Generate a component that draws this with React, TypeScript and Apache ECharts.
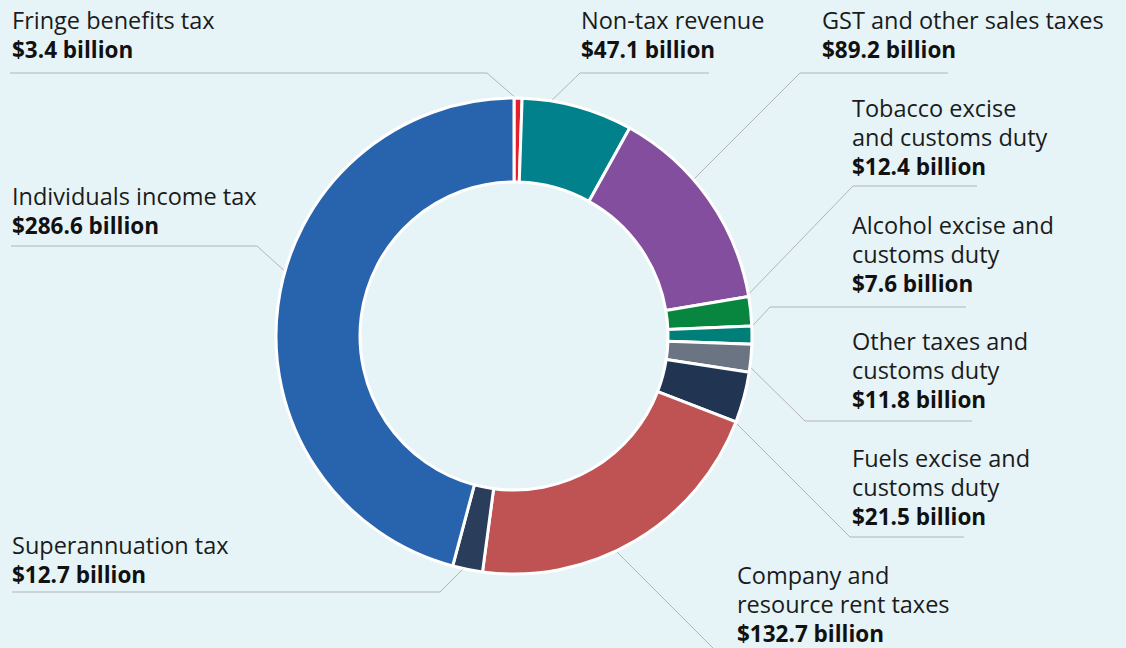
import React, { useEffect, useRef } from 'react';
import * as echarts from 'echarts';

const categories = [
  'Fringe benefits tax',
  'Non-tax revenue',
  'GST and other sales taxes',
  'Tobacco excise\nand customs duty',
  'Alcohol excise and\ncustoms duty',
  'Other taxes and\ncustoms duty',
  'Fuels excise and\ncustoms duty',
  'Company and\nresource rent taxes',
  'Superannuation tax',
  'Individuals income tax',
];
const values = [3.4, 47.1, 89.2, 12.4, 7.6, 11.8, 21.5, 132.7, 12.7, 286.6];
const colors = [
  '#E4212B', '#00818B', '#834E9E', '#08863F', '#007F79',
  '#6B7482', '#213553', '#BF5253', '#2A3D5A', '#2864AE',
];

// label anchor (top-left) positions and leader-line routes (layout only)
const labelPositions: number[][] = [
  [12, 5.5], [581, 5.5], [822, 5.5], [852, 93.5], [852, 210.5],
  [852, 326.5], [852, 443.5], [737, 560.5], [12, 530.5], [12, 181.5],
];
const leaderLines: number[][][] = [
  [[518, 100], [487, 73], [10, 73]],
  [[548, 104], [580, 73], [709, 73]],
  [[690, 183], [800, 73], [948, 73]],
  [[742, 301], [853, 186], [977, 186]],
  [[745, 334], [770, 307], [966, 307]],
  [[745, 362], [805, 421], [972, 421]],
  [[726, 413], [850, 537], [964, 537]],
  [[613, 548], [715, 650], [900, 650]],
  [[467, 565], [440, 592], [12, 592]],
  [[288, 274], [257, 246], [11, 246]],
];

const FONT = '"Open Sans", sans-serif';

export default function App() {
  const ref = useRef<HTMLDivElement>(null);
  useEffect(() => {
    const chart = echarts.init(ref.current!, null, { renderer: 'svg' });
    chart.setOption({
      animation: false,
      backgroundColor: '#E6F4F7',
      series: [
        {
          type: 'pie',
          center: [514, 336],
          radius: [154, 238],
          startAngle: 90,
          clockwise: true,
          avoidLabelOverlap: false,
          emphasis: { disabled: true },
          itemStyle: { borderColor: '#ffffff', borderWidth: 3 },
          label: {
            show: true,
            position: 'outer',
            alignTo: 'none',
            formatter: (p: any) =>
              p.name.split('\n').map((s: string) => `{n|${s}}`).join('\n') +
              `\n{v|$${p.value} billion}`,
            rich: {
              n: { fontFamily: FONT, fontSize: 23.5, lineHeight: 29, color: '#1b1b1b' },
              v: { fontFamily: FONT, fontSize: 22.5, lineHeight: 29, fontWeight: 'bold', color: '#111111' },
            },
          },
          labelLine: { show: true, lineStyle: { color: '#b4b4b4', width: 1 } },
          labelLayout: (params: any) => {
            const i = params.dataIndex;
            return {
              x: labelPositions[i][0],
              y: labelPositions[i][1],
              align: 'left',
              verticalAlign: 'top',
              labelLinePoints: leaderLines[i],
            };
          },
          data: categories.map((name, i) => ({
            name,
            value: values[i],
            itemStyle: { color: colors[i] },
          })),
        },
      ],
    });
    return () => chart.dispose();
  }, []);
  return (
    <div
      ref={ref}
      style={{ position: 'fixed', left: 0, top: 0, width: 1126, height: 648 }}
    />
  );
}
